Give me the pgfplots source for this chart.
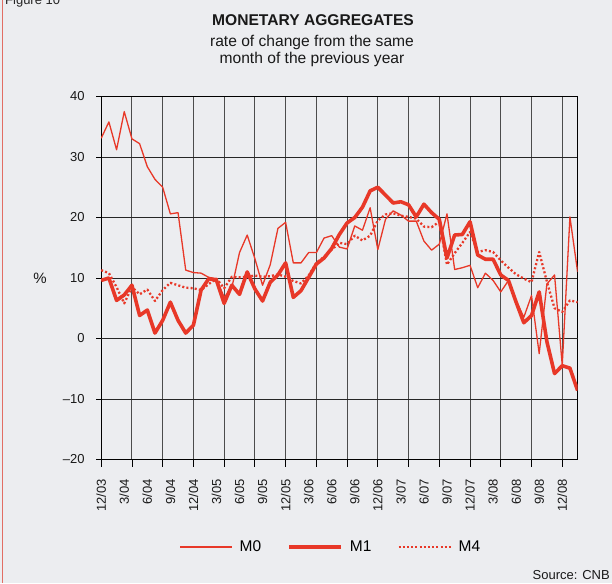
\documentclass[border=0pt]{standalone}
\usepackage{pgfplots}
\pgfplotsset{compat=1.18}
\usepackage{pgfplotstable}
\usepackage{fontspec}
\setmainfont{Liberation Sans}
\definecolor{bg}{RGB}{236,237,240}
\definecolor{ser}{RGB}{232,56,40}
\definecolor{frame}{RGB}{226,110,100}

\pgfplotstableread{
m m0 m1 m4
0 33.1 9.6 11.3
1 35.8 10.0 10.8
2 31.2 6.3 8.5
3 37.5 7.2 5.8
4 33.0 8.8 8.5
5 32.2 3.8 7.3
6 28.4 4.7 8.1
7 26.3 0.9 6.2
8 25.0 3.0 8.0
9 20.6 6.0 9.2
10 20.8 3.0 8.8
11 11.3 0.9 8.4
12 10.9 2.2 8.3
13 10.8 8.0 8.0
14 10.1 9.9 9.0
15 9.9 9.6 9.9
16 6.8 5.8 8.3
17 8.4 8.8 10.2
18 14.2 7.3 10.1
19 17.1 11.0 10.2
20 13.2 8.2 10.4
21 8.8 6.2 10.2
22 12.2 9.3 10.3
23 18.2 10.5 10.6
24 19.2 12.5 10.2
25 12.5 6.8 9.5
26 12.5 7.9 9.1
27 14.2 10.1 10.4
28 14.2 12.3 12.5
29 16.6 13.3 13.5
30 17.0 14.9 14.7
31 15.1 17.2 15.8
32 14.8 19.1 15.6
33 18.6 20.0 17.0
34 17.9 21.7 16.2
35 21.6 24.4 17.0
36 14.7 25.0 19.5
37 19.7 23.7 20.5
38 21.1 22.4 20.7
39 20.4 22.6 20.3
40 19.4 22.1 20.1
41 19.4 20.1 19.8
42 16.1 22.2 18.5
43 14.6 20.8 18.4
44 15.6 19.7 19.3
45 20.6 13.3 12.2
46 11.4 17.1 14.1
47 11.7 17.2 15.8
48 12.1 19.3 17.6
49 8.4 13.8 14.3
50 10.8 13.1 14.6
51 9.6 13.1 14.3
52 7.7 10.5 12.9
53 9.6 9.6 11.7
54 6.3 6.0 10.6
55 3.5 2.6 9.9
56 7.1 3.8 9.3
57 -2.5 7.7 14.3
58 9.0 -0.5 9.4
59 10.5 -5.8 5.0
60 -4.4 -4.5 4.4
61 20.1 -4.9 6.3
62 11.0 -8.6 6.0
}\datatable

\begin{document}
\begin{tikzpicture}[x=1pt,y=1pt]
\useasboundingbox (0,0) rectangle (612,583);
\fill[bg] (0,0) rectangle (612,583);
\draw[frame, line width=1.5pt] (2.5,0) -- (2.5,583);
\node[anchor=base west, inner sep=0, font=\fontsize{13}{15}\selectfont, text=black!85] at (5,578) {Figure 10};
\node[anchor=base, inner sep=0, font=\fontsize{15.6}{17}\selectfont\bfseries, text=black!90] at (313,557) {MONETARY AGGREGATES};
\node[anchor=base, inner sep=0, font=\fontsize{15.6}{17}\selectfont, text=black!90] at (312,536) {rate of change from the same};
\node[anchor=base, inner sep=0, font=\fontsize{15.6}{17}\selectfont, text=black!90] at (312,519) {month of the previous year};
\node[inner sep=0, font=\fontsize{15}{17}\selectfont, text=black!90] at (40,305) {\%};
\node[anchor=base east, inner sep=0, font=\fontsize{13}{15}\selectfont, text=black!90] at (610,4) {Source: CNB};
\begin{axis}[
  at={(101.2pt,123.5pt)}, anchor=south west,
  scale only axis, width=476.4pt, height=363pt,
  xmin=0, xmax=62, ymin=-20, ymax=40,
  axis line style={black, line width=0.8pt},
  tick pos=left, tick align=outside,
  ytick={-20,-10,0,10,20,30,40},
  yticklabels={–20,–10,0,10,20,30,40},
  ymajorgrids, 
  major grid style={black!85, line width=0.8pt},
  minor grid style={black!70, line width=0.9pt},
  xtick={0,3,...,60},
  xticklabels={12/03,3/04,6/04,9/04,12/04,3/05,6/05,9/05,12/05,3/06,6/06,9/06,12/06,3/07,6/07,9/07,12/07,3/08,6/08,9/08,12/08},
  xmajorgrids=false,
  minor xtick={0,4,...,60},
  xminorgrids,
  major x tick style={draw=none},
  major tick length=5pt, minor tick length=7pt,
  tick style={black, line width=0.8pt},
  extra y ticks={0}, extra y tick labels={},
  extra y tick style={grid style={black, line width=2pt}},
  extra x ticks={0}, extra x tick labels={},
  extra x tick style={grid style={black, line width=2pt}, major tick length=0pt},
  ticklabel style={font=\fontsize{13}{15}\selectfont, text=black!90},
  xticklabel style={rotate=90, anchor=east},
  xticklabel shift=11pt,
  yticklabel shift=8pt,
  legend columns=3,
  legend style={at={(0.482,-0.241)}, anchor=center, draw=none, fill=none,
    font=\fontsize{15.5}{17}\selectfont,
    /tikz/every odd column/.append style={column sep=5pt},
    /tikz/every even column/.append style={column sep=24pt}},
  legend image code/.code={\draw[#1] (0pt,0pt) -- (52pt,0pt);},
  line join=round,
]
\addplot[ser, line width=1.3pt] table[x=m, y=m0] {\datatable};
\addlegendentry{M0}
\addplot[ser, line width=3.6pt] table[x=m, y=m1] {\datatable};
\addlegendentry{M1}
\addplot[ser, line width=2.3pt, dash pattern=on 2pt off 2.2pt] table[x=m, y=m4] {\datatable};
\addlegendentry{M4}
\end{axis}
\end{tikzpicture}
\end{document}
